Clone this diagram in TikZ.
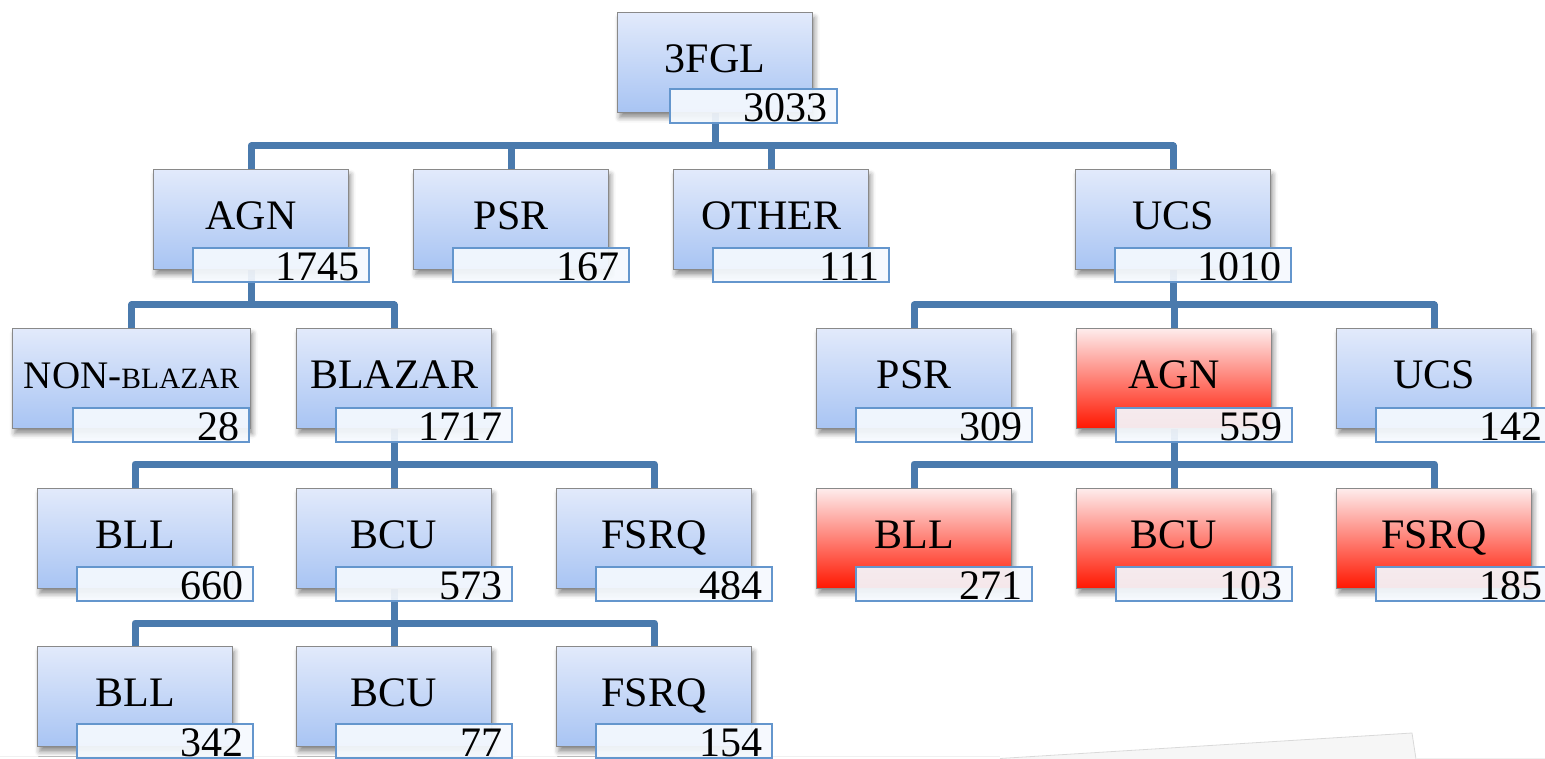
\documentclass[tikz,border=0pt]{standalone}
\usepackage{fontspec}
\setmainfont{Liberation Serif}
\usetikzlibrary{shadows.blur}

\definecolor{linkblue}{RGB}{74,122,173}
\definecolor{boxtop}{RGB}{226,234,251}
\definecolor{boxbot}{RGB}{168,196,243}
\definecolor{redtop}{RGB}{254,236,236}
\definecolor{redmid}{RGB}{255,158,158}
\definecolor{redbot}{RGB}{255,22,0}
\definecolor{boxedge}{RGB}{137,137,137}
\definecolor{numfill}{RGB}{245,249,254}
\definecolor{numedge}{RGB}{100,150,205}

\pgfdeclarelayer{bg}
\pgfsetlayers{bg,main}

\begin{document}
\begin{tikzpicture}[x=1pt,y=-1pt,
  catbox/.style={draw=boxedge, line width=1.2pt, inner sep=0pt, anchor=north west,
    minimum height=100pt, minimum width=195pt, text height=28pt, text depth=9pt,
    font=\fontsize{42}{48}\selectfont,
    blur shadow={shadow xshift=2pt, shadow yshift=-5pt, shadow blur radius=5pt, shadow opacity=45}},
  bluebox/.style={catbox, top color=boxtop, bottom color=boxbot},
  redbox/.style={catbox, top color=redtop, middle color=redmid, bottom color=redbot},
  countbox/.style={draw=numedge, line width=1.6pt, fill=numfill, fill opacity=0.92,
    text opacity=1, anchor=north west, minimum height=34pt, text width=158pt,
    align=right, inner xsep=9pt, inner ysep=0pt, text height=31.5pt, text depth=0pt,
    font=\fontsize{42}{48}\selectfont},
  link/.style={draw=linkblue, line width=7pt, line join=round}
]
\useasboundingbox (0,0) rectangle (1545,759);
\clip (0,0) rectangle (1545,759);

% level 0
\node[bluebox] (fgl) at (617,12) {3FGL};
\node[countbox, text width=149pt] (fgln) at (669,88) {3033};

% level 1
\node[bluebox] (agn) at (153,169) {AGN};
\node[countbox] (agnn) at (192,247) {1745};
\node[bluebox] (psr) at (413,169) {PSR};
\node[countbox] (psrn) at (452,247) {167};
\node[bluebox] (oth) at (673,169) {OTHER};
\node[countbox] (othn) at (712,247) {111};
\node[bluebox] (ucs) at (1075,169) {UCS};
\node[countbox] (ucsn) at (1114,247) {1010};

% level 2
\node[bluebox, minimum width=238pt] (nbl) at (12,328)
  {{\fontsize{39}{44}\selectfont NON-}{\fontsize{29.5}{34}\selectfont BLAZAR}};
\node[countbox] (nbln) at (72,407) {28};
\node[bluebox] (bla) at (296,328) {BLAZAR};
\node[countbox] (blan) at (335,407) {1717};
\node[bluebox] (upsr) at (816,328) {PSR};
\node[countbox] (upsrn) at (855,407) {309};
\node[redbox] (uagn) at (1076,328) {AGN};
\node[countbox] (uagnn) at (1115,407) {559};
\node[bluebox] (uucs) at (1336,328) {UCS};
\node[countbox] (uucsn) at (1375,407) {142};

% level 3
\node[bluebox] (bll) at (37,488) {BLL};
\node[countbox] (blln) at (76,566) {660};
\node[bluebox] (bcu) at (296,488) {BCU};
\node[countbox] (bcun) at (335,566) {573};
\node[bluebox] (fsrq) at (556,488) {FSRQ};
\node[countbox] (fsrqn) at (595,566) {484};
\node[redbox] (ubll) at (816,488) {BLL};
\node[countbox] (ublln) at (855,566) {271};
\node[redbox] (ubcu) at (1076,488) {BCU};
\node[countbox] (ubcun) at (1115,566) {103};
\node[redbox] (ufsrq) at (1336,488) {FSRQ};
\node[countbox] (ufsrqn) at (1375,566) {185};

% level 4
\node[bluebox] (bbll) at (37,646) {BLL};
\node[countbox] (bblln) at (76,723) {342};
\node[bluebox] (bbcu) at (296,646) {BCU};
\node[countbox] (bbcun) at (335,723) {77};
\node[bluebox] (bfsrq) at (556,646) {FSRQ};
\node[countbox] (bfsrqn) at (595,723) {154};

% connector levels
\coordinate (lv0) at (0,146);
\coordinate (lv1) at (0,305);
\coordinate (lv2) at (0,464);
\coordinate (lv3) at (0,623);

\begin{pgfonlayer}{bg}
  % faint sheet edge in the lower right
  \fill[gray!7] (1000,759) -- (1412,733) -- (1416,759) -- cycle;
  \draw[gray!30, line width=0.8pt] (1000,758.5) -- (1412,733) -- (1416,759);
  \draw[gray!12, line width=0.8pt] (0,756.5) -- (1000,756.5);
  \draw[gray!12, line width=0.8pt] (1416,758.5) -- (1545,758.5);
  % tree connectors
  \foreach \c in {agn,psr,oth,ucs}
    \draw[link] (fgl.south) |- (\c.north |- lv0) -- (\c.north);
  \foreach \c in {nbl,bla}
    \draw[link] (agn.south) |- (\c.north |- lv1) -- (\c.north);
  \foreach \c in {upsr,uagn,uucs}
    \draw[link] (ucs.south) |- (\c.north |- lv1) -- (\c.north);
  \foreach \c in {bll,bcu,fsrq}
    \draw[link] (bla.south) |- (\c.north |- lv2) -- (\c.north);
  \foreach \c in {ubll,ubcu,ufsrq}
    \draw[link] (uagn.south) |- (\c.north |- lv2) -- (\c.north);
  \foreach \c in {bbll,bbcu,bfsrq}
    \draw[link] (bcu.south) |- (\c.north |- lv3) -- (\c.north);
\end{pgfonlayer}
\end{tikzpicture}
\end{document}
